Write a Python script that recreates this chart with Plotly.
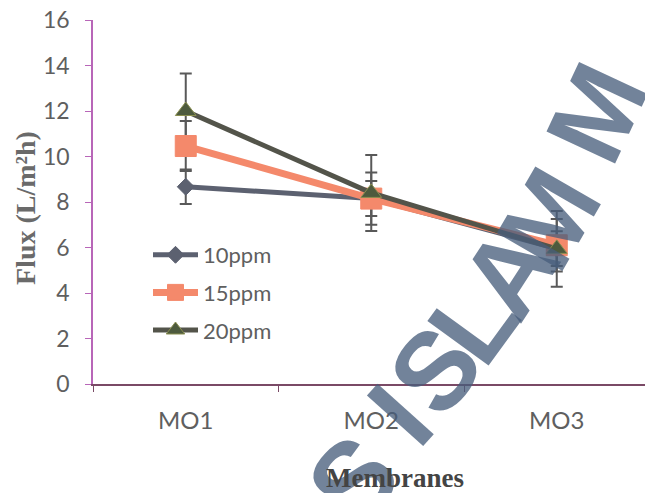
import plotly.graph_objects as go

# Flux of the three membranes at three feed concentrations
membranes = ["MO1", "MO2", "MO3"]
series_names = ["10ppm", "15ppm", "20ppm"]
flux_10ppm = [8.67, 8.15, 5.95]
flux_15ppm = [10.46, 8.15, 6.10]
flux_20ppm = [12.00, 8.40, 5.94]
err_10ppm = [0.76, 0.77, 0.76]
err_15ppm = [1.10, 1.15, 1.15]
err_20ppm = [1.65, 1.67, 1.66]
y_ticks = [0, 2, 4, 6, 8, 10, 12, 14, 16]

W, H = 645, 493
L_M, R_M, T_M, B_M = 93, 0, 20, 109
PW, PH = W - L_M - R_M, H - T_M - B_M


def px_x(px):
    return (px - L_M) / PW


def px_y(py):
    return (H - B_M - py) / PH


styles = [
    dict(color="#5c6170", width=5, symbol="diamond", size=13, mcolor="#5c6170", mline="#5c6170"),
    dict(color="#f4896b", width=7, symbol="square", size=21, mcolor="#f4896b", mline="#f4896b"),
    dict(color="#53544a", width=5, symbol="triangle-up", size=18, mcolor="#4d5a3e", mline="#8a8f50"),
]
values = [flux_10ppm, flux_15ppm, flux_20ppm]
errors = [err_10ppm, err_15ppm, err_20ppm]

fig = go.Figure()

# error bars first so every marker sits on top of them
for name, ys, es in zip(series_names, values, errors):
    fig.add_trace(go.Scatter(
        x=membranes, y=ys, mode="markers", showlegend=False, hoverinfo="skip",
        marker=dict(size=2, opacity=0),
        error_y=dict(type="data", array=es, visible=True, color="#595959",
                     thickness=2, width=6),
    ))

for name, ys, st in zip(series_names, values, styles):
    fig.add_trace(go.Scatter(
        x=membranes, y=ys, name=name, mode="lines+markers", legendgroup=name,
        line=dict(color=st["color"], width=st["width"]),
        marker=dict(symbol=st["symbol"], size=st["size"], color=st["mcolor"],
                    line=dict(color=st["mline"], width=1)),
    ))

# faint university watermark letters running along an arc
watermark = [
    ("S", 352, 480, -46), ("I", 400, 415, -48), ("S", 434, 370, -51),
    ("L", 472, 322, -54), ("A", 508, 272, -57), ("M", 548, 218, -60),
    ("M", 596, 112, -65),
]
annotations = []
for ch, x, y, ang in watermark:
    annotations.append(dict(
        text=ch, x=px_x(x), y=px_y(y), xref="paper", yref="paper",
        xanchor="center", yanchor="middle", showarrow=False, textangle=ang,
        font=dict(family="Liberation Sans", size=110, color="rgba(72,94,124,0.77)", weight="bold"),
    ))

annotations += [
    dict(text="Flux (L/m²h)", x=px_x(26), y=px_y(208), xref="paper", yref="paper",
         xanchor="center", yanchor="middle", showarrow=False, textangle=-90,
         font=dict(family="Liberation Serif", size=28, color="#6a6a6a", weight="bold")),
    dict(text="Membranes", x=px_x(395), y=px_y(478), xref="paper", yref="paper",
         xanchor="center", yanchor="middle", showarrow=False,
         font=dict(family="Liberation Serif", size=27, color="#444444", weight="bold")),
]

fig.update_layout(
    width=W, height=H,
    margin=dict(l=L_M, r=R_M, t=T_M, b=B_M, pad=0),
    paper_bgcolor="white", plot_bgcolor="white",
    font=dict(family="Lato", color="#5f5f5f"),
    showlegend=True,
    legend=dict(x=px_x(148), y=px_y(234), xanchor="left", yanchor="top",
                bgcolor="rgba(0,0,0,0)", font=dict(family="Lato", size=22, color="#5f5f5f"),
                itemwidth=45, tracegroupgap=6, traceorder="grouped"),
    annotations=annotations,
    xaxis=dict(
        type="category", range=[-0.5, -0.5 + PW / 185.5],
        showline=True, linecolor="#7a4a66", linewidth=1.5,
        ticks="outside", ticklen=6, tickcolor="#7a4a66", tickson="boundaries",
        showgrid=False, zeroline=False,
        tickfont=dict(family="Lato", size=24, color="#5f5f5f"),
        ticklabelstandoff=14,
    ),
    yaxis=dict(
        range=[0, 16], tickvals=y_ticks,
        showline=True, linecolor="#b866b8", linewidth=1.5,
        ticks="outside", ticklen=6, tickcolor="#b866b8",
        showgrid=False, zeroline=False,
        tickfont=dict(family="Lato", size=23, color="#5f5f5f"),
        ticklabelstandoff=11,
    ),
)

fig.write_html("out.html")
